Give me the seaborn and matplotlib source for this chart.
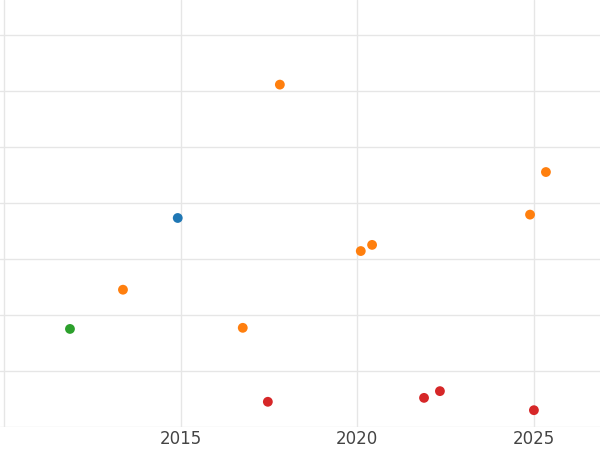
import matplotlib
matplotlib.use("Agg")
import matplotlib.pyplot as plt
import seaborn as sns
import pandas as pd

years = [2014.92, 2011.87, 2013.37, 2016.76, 2017.81, 2020.10, 2020.42, 2024.89, 2025.34,
         2017.47, 2021.89, 2022.34, 2025.0]
values = [3.73, 1.75, 2.45, 1.77, 6.11, 3.14, 3.25, 3.79, 4.55, 0.45, 0.52, 0.64, 0.30]
groups = ["A", "B", "C", "C", "C", "C", "C", "C", "C", "D", "D", "D", "D"]
palette = {"A": "#1f77b4", "B": "#2ca02c", "C": "#ff7f0e", "D": "#d62728"}

df = pd.DataFrame({"year": years, "value": values, "group": groups})

sns.set_theme(style="whitegrid")
fig = plt.figure(figsize=(6, 4.5), dpi=100)
ax = fig.add_axes([0, 23/450, 1, 427/450])
sns.scatterplot(data=df, x="year", y="value", hue="group", palette=palette,
                s=50, edgecolor="none", legend=False, ax=ax)
ax.set_xlim(2009.89, 2026.87)
ax.set_ylim(0, 7.62)
ax.set_xticks([2010, 2015, 2020, 2025])
ax.set_xticklabels(["", "2015", "2020", "2025"])
ax.set_yticks(range(0, 8))
ax.set_yticklabels([])
ax.tick_params(axis="x", labelsize=12, colors="#444444", pad=2, length=0)
ax.tick_params(axis="y", length=0)
for s in ax.spines.values():
    s.set_visible(False)
ax.grid(color="#e6e6e6", linewidth=1)
ax.set_xlabel("")
ax.set_ylabel("")
fig.savefig("out.png", dpi=100)
